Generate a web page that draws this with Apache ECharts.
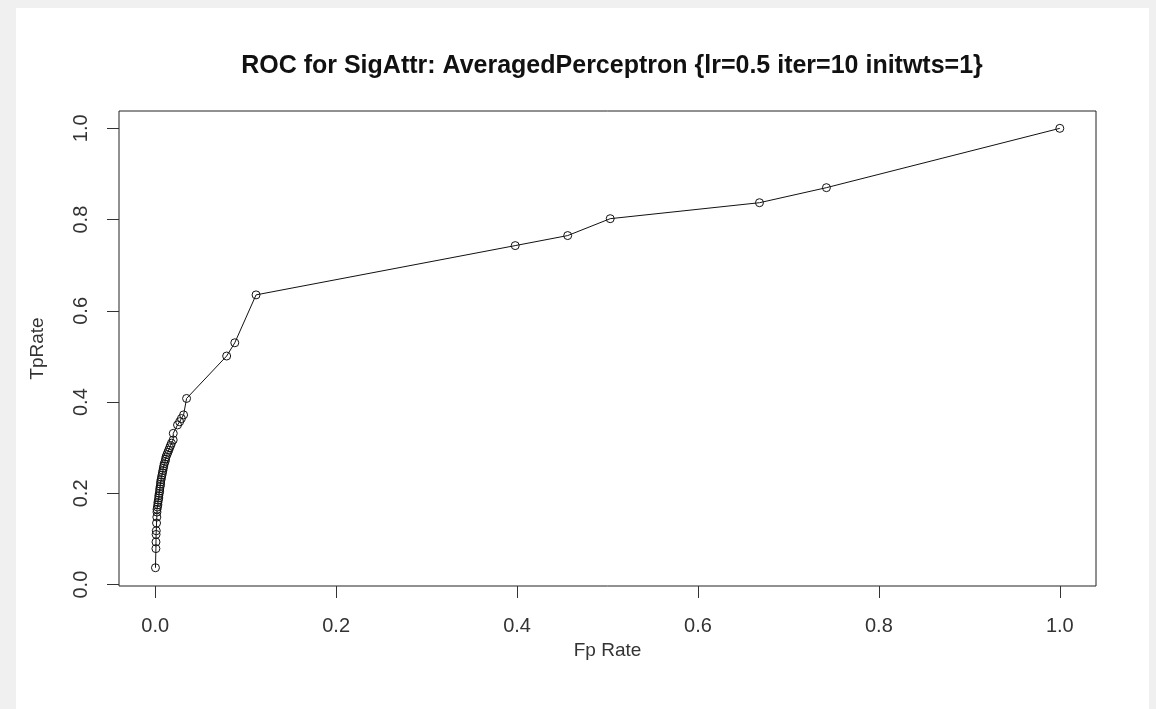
<!DOCTYPE html>
<html>
<head>
<meta charset="utf-8">
<script src="https://cdn.jsdelivr.net/npm/echarts@6/dist/echarts.min.js"></script>
<style>
  html, body { margin: 0; padding: 0; background: #f0f0f0; }
  #panel { position: absolute; left: 16px; top: 8px; width: 1133px; height: 701px; background: #fff; }
  #chart { position: absolute; left: 0; top: 0; width: 1156px; height: 709px; }
</style>
</head>
<body>
<div id="panel"></div>
<div id="chart"></div>
<script>
// ROC points (sorted by TP rate)
var fpRate = [
    0.0003, 0.0008, 0.0009, 0.001, 0.0012, 0.0015, 0.0018, 0.002,
    0.002, 0.0025, 0.003, 0.003, 0.0035, 0.004, 0.004, 0.0045, 0.005, 0.005,
    0.0055, 0.006, 0.006, 0.0065, 0.007, 0.0075, 0.008, 0.0085, 0.009, 0.0095,
    0.010, 0.011, 0.0115, 0.012, 0.013, 0.014, 0.015, 0.016, 0.017, 0.018,
    0.0199, 0.020, 0.0247, 0.027, 0.029, 0.0314, 0.0347,
    0.079, 0.088, 0.1115, 0.398, 0.456, 0.503, 0.668, 0.742, 1.0
];
var tpRate = [
    0.037, 0.079, 0.0935, 0.110, 0.118, 0.135, 0.148, 0.159,
    0.165, 0.170, 0.175, 0.180, 0.185, 0.190, 0.195, 0.200, 0.205, 0.210,
    0.215, 0.220, 0.225, 0.230, 0.235, 0.240, 0.245, 0.250, 0.255, 0.260,
    0.265, 0.270, 0.275, 0.280, 0.285, 0.290, 0.295, 0.300, 0.305, 0.310,
    0.317, 0.3315, 0.350, 0.357, 0.364, 0.372, 0.408,
    0.501, 0.530, 0.635, 0.743, 0.765, 0.802, 0.837, 0.870, 1.0
];
var xTicks = [0, 0.2, 0.4, 0.6, 0.8, 1.0];
var yTicks = [0, 0.2, 0.4, 0.6, 0.8, 1.0];
var chartTitle = 'ROC for SigAttr: AveragedPerceptron {lr=0.5 iter=10 initwts=1}';
var xName = 'Fp Rate';
var yName = 'TpRate';

var points = [];
for (var i = 0; i < fpRate.length; i++) {
    points.push([fpRate[i], tpRate[i]]);
}

var font = '"Liberation Sans", Arial, sans-serif';
var chart = echarts.init(document.getElementById('chart'));
chart.setOption({
    animation: false,
    title: {
        text: chartTitle,
        left: 607,
        top: 49,
        textAlign: 'center',
        textStyle: {
            fontFamily: font,
            fontWeight: 'bold',
            fontSize: 25,
            color: '#111'
        }
    },
    grid: {
        show: true,
        left: 119,
        right: 60,
        top: 111,
        bottom: 123,
        borderColor: '#222',
        borderWidth: 1,
        backgroundColor: 'transparent',
        containLabel: false
    },
    xAxis: {
        type: 'value',
        min: -0.04,
        max: 1.04,
        name: xName,
        nameLocation: 'middle',
        nameGap: 55,
        nameTextStyle: { fontFamily: font, fontSize: 19, color: '#333' },
        axisLine: { show: false, onZero: false },
        splitLine: { show: false },
        axisTick: {
            show: true,
            length: 12,
            customValues: xTicks,
            lineStyle: { color: '#333', width: 1 }
        },
        axisLabel: {
            customValues: xTicks,
            margin: 30,
            fontFamily: font,
            fontSize: 20,
            color: '#333',
            formatter: function (v) { return v.toFixed(1); }
        }
    },
    yAxis: {
        type: 'value',
        min: -0.003,
        max: 1.038,
        name: yName,
        nameLocation: 'middle',
        nameRotate: 90,
        nameGap: 72,
        nameTextStyle: { fontFamily: font, fontSize: 19, color: '#333' },
        axisLine: { show: false, onZero: false },
        splitLine: { show: false },
        axisTick: {
            show: true,
            length: 12,
            customValues: yTicks,
            lineStyle: { color: '#333', width: 1 }
        },
        axisLabel: {
            customValues: yTicks,
            rotate: 90,
            margin: 28,
            fontFamily: font,
            fontSize: 20,
            color: '#333',
            formatter: function (v) { return v.toFixed(1); }
        }
    },
    series: [
        {
            type: 'line',
            data: points,
            symbol: 'circle',
            symbolSize: 8,
            showSymbol: true,
            itemStyle: {
                color: 'transparent',
                borderColor: '#111',
                borderWidth: 1
            },
            lineStyle: { color: '#111', width: 1 },
            emphasis: { disabled: true }
        }
    ]
});
</script>
</body>
</html>
